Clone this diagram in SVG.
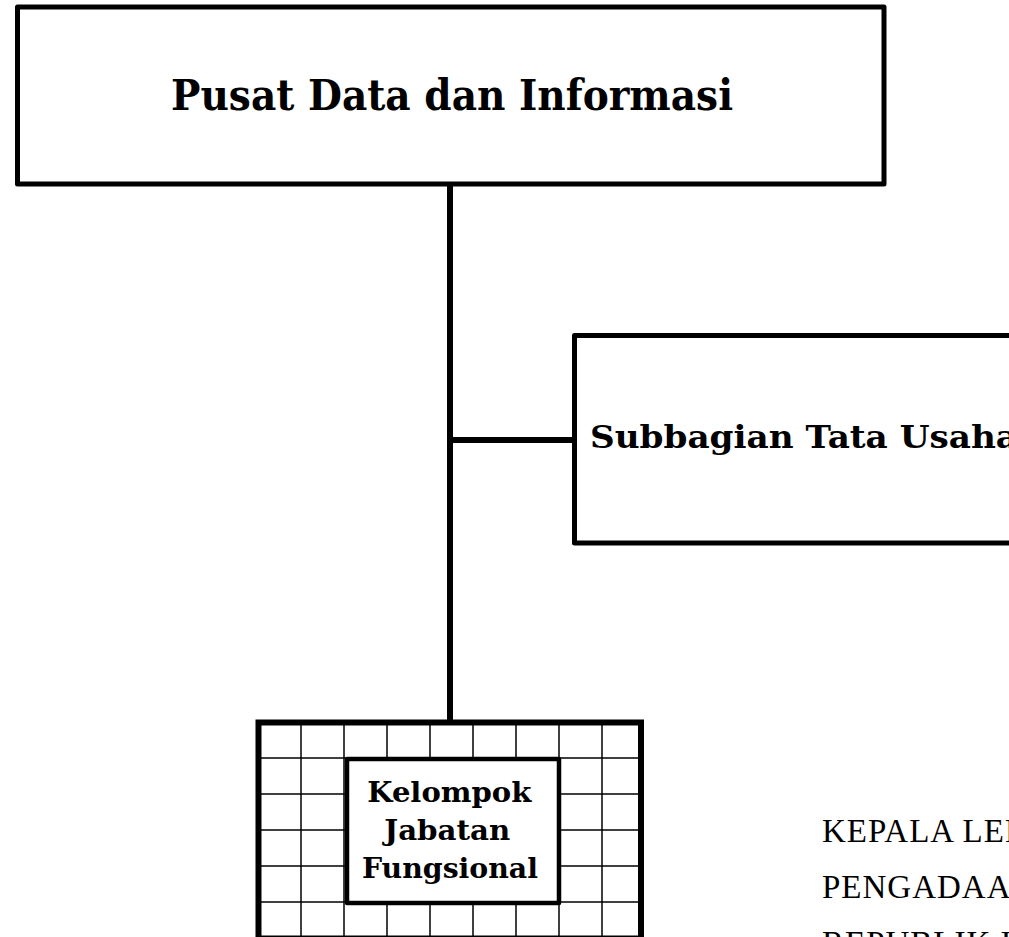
<svg xmlns="http://www.w3.org/2000/svg" width="1009" height="937" viewBox="0 0 1009 937">
  <style>
    .box { fill: #fff; stroke: #000; stroke-width: 5; stroke-linejoin: round; }
    .link { fill: none; stroke: #000; stroke-width: 6; }
    .grid { stroke: #000; stroke-width: 1.5; }
    .title { font-family: "DejaVu Serif", "Liberation Serif", serif; font-weight: bold; fill: #000; }
    .sign { font-family: "Liberation Serif", "Times New Roman", serif; font-size: 33px; fill: #000; }
  </style>

  <rect width="1009" height="937" fill="#fff"/>

  <!-- connectors -->
  <g id="connectors">
    <line class="link" x1="450" y1="184" x2="450" y2="722"/>
    <line class="link" x1="450" y1="440" x2="575" y2="440"/>
  </g>

  <!-- head unit -->
  <g id="pusat-data">
    <rect class="box" x="17.5" y="7" width="866.5" height="177"/>
    <text class="title" x="452" y="110" font-size="42" text-anchor="middle" textLength="562" lengthAdjust="spacingAndGlyphs">Pusat Data dan Informasi</text>
  </g>

  <!-- administration subunit -->
  <g id="subbagian-tu">
    <rect class="box" x="574.5" y="335.5" width="460" height="207.5"/>
    <text class="title" x="590" y="448" font-size="32" textLength="428" lengthAdjust="spacingAndGlyphs">Subbagian Tata Usaha</text>
  </g>

  <!-- functional group -->
  <g id="kelompok-jf">
    <rect x="258.5" y="722.5" width="382.5" height="216" fill="#fff" stroke="#000" stroke-width="6"/>
    <g class="grid">
      <line x1="301" y1="722" x2="301" y2="937"/>
      <line x1="344" y1="722" x2="344" y2="937"/>
      <line x1="387" y1="722" x2="387" y2="937"/>
      <line x1="430" y1="722" x2="430" y2="937"/>
      <line x1="473" y1="722" x2="473" y2="937"/>
      <line x1="516" y1="722" x2="516" y2="937"/>
      <line x1="559" y1="722" x2="559" y2="937"/>
      <line x1="602" y1="722" x2="602" y2="937"/>
      <line x1="258" y1="758" x2="641" y2="758"/>
      <line x1="258" y1="794" x2="641" y2="794"/>
      <line x1="258" y1="830" x2="641" y2="830"/>
      <line x1="258" y1="866" x2="641" y2="866"/>
      <line x1="258" y1="902" x2="641" y2="902"/>
    </g>
    <rect x="347" y="759" width="212" height="144" fill="#fff" stroke="#000" stroke-width="4.5" stroke-linejoin="round"/>
    <text class="title" font-size="27" text-anchor="middle">
      <tspan x="454" y="802" textLength="164" lengthAdjust="spacingAndGlyphs">Kelompok</tspan>
      <tspan x="452" y="840" textLength="126" lengthAdjust="spacingAndGlyphs">Jabatan</tspan>
      <tspan x="450" y="878" textLength="176" lengthAdjust="spacingAndGlyphs">Fungsional</tspan>
    </text>
  </g>

  <!-- signature block -->
  <g id="signature">
    <text class="sign" x="822" y="842" letter-spacing="1">KEPALA LEMBAGA</text>
    <text class="sign" x="822" y="898" letter-spacing="1">PENGADAAN</text>
    <text class="sign" x="822" y="954" letter-spacing="1">REPUBLIK INDONESIA</text>
  </g>
</svg>
